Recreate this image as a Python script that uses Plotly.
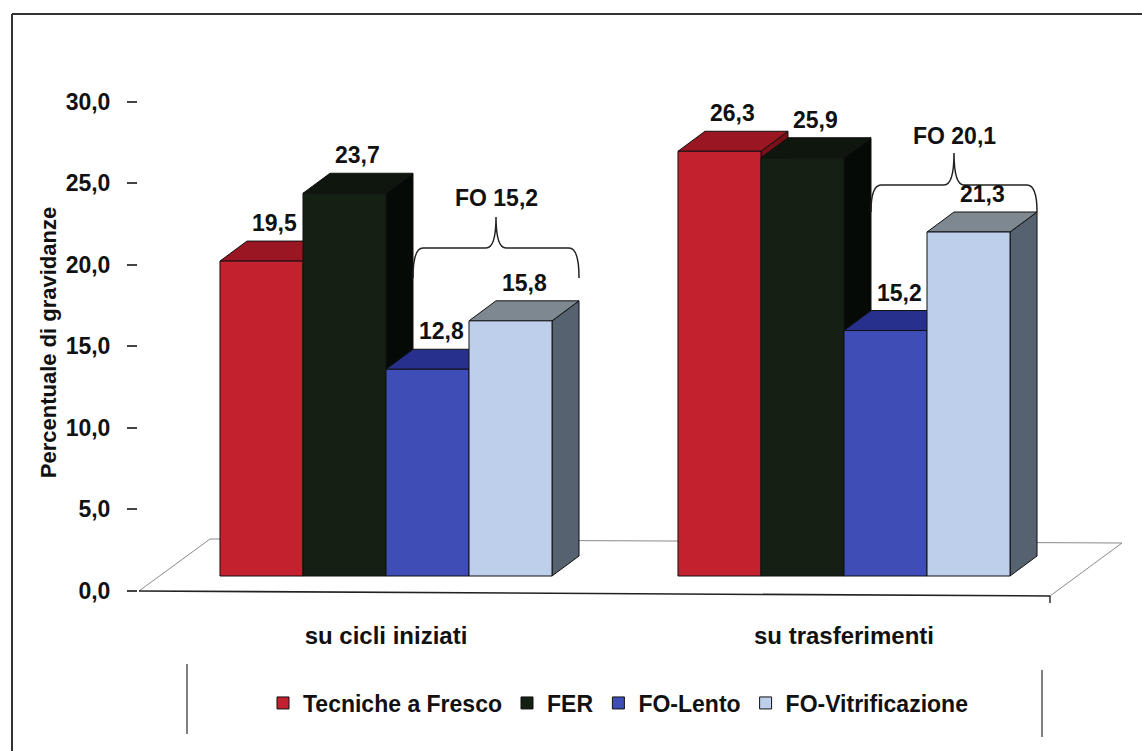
import plotly.graph_objects as go

# ---------------- data ----------------
categories = ["su cicli iniziati", "su trasferimenti"]
series_names = ["Tecniche a Fresco", "FER", "FO-Lento", "FO-Vitrificazione"]
fresco = [19.5, 26.3]
fer = [23.7, 25.9]
fo_lento = [12.8, 15.2]
fo_vitri = [15.8, 21.3]
fo_totals = [15.2, 20.1]
y_ticks = [0, 5, 10, 15, 20, 25, 30]

series_values = [fresco, fer, fo_lento, fo_vitri]

# ---------------- styles ----------------
front_colors = ["#C4212F", "#132013", "#3F4DB6", "#BDCFEA"]
top_colors = ["#9A1622", "#0E160E", "#27308C", "#7D8890"]
side_colors = ["#7A0F18", "#060A06", "#1E2570", "#566270"]
FONT = "Liberation Sans, Arial, sans-serif"

# ---------------- geometry (pixels) ----------------
W, H = 1142, 751
PL, PR, PT, PB = 138, 1130, 80, 605
G0, GSCALE = 386, 458.0          # x: group 0 centre px, px per group unit
B0, BS = 576, 16.15              # bars: value 0 at px, px per unit
A0, AS = 591, (591 - 101.5) / 30  # tick axis: value 0 at px, px per unit
DEPTH_X, DEPTH_Y = 27, 20        # 3D depth offset in px
BARGAP = 0.275


def xd(px):
    return (px - G0) / GSCALE


def yd(px):
    return (B0 - px) / BS


def xp(px):
    return (px - PL) / (PR - PL)


def yp(px):
    return (PB - px) / (PB - PT)


ddx = DEPTH_X / GSCALE
ddy = DEPTH_Y / BS

xrange_ = [xd(PL), xd(PR)]
y2range = [yd(PB), yd(PT)]
yrange = [(A0 - PB) / AS, (A0 - PT) / AS]


def fmt(v):
    return f"{v:.1f}".replace(".", ",")


fig = go.Figure()

# dummy trace to anchor the tick axis
fig.add_trace(go.Scatter(x=[None], y=[None], showlegend=False, hoverinfo="skip"))

n = len(series_values)
bw = (1 - BARGAP) / n
for i, (name, vals) in enumerate(zip(series_names, series_values)):
    fig.add_trace(go.Bar(
        x=list(range(len(categories))), y=vals, name=name, yaxis="y2",
        marker=dict(color=front_colors[i], line=dict(color="#111111", width=1)),
        hoverinfo="skip",
    ))

shapes = []
line_grey = dict(color="#8a8a8a", width=1)
# floor
fl = (xd(139), yd(591)); fr = (xd(1050), yd(596))
br = (xd(1122), yd(543)); bl = (xd(210), yd(539))
shapes.append(dict(type="path", xref="x", yref="y2", layer="below",
                   path=f"M{fl[0]},{fl[1]} L{bl[0]},{bl[1]} L{br[0]},{br[1]} L{fr[0]},{fr[1]}",
                   line=line_grey, fillcolor="rgba(0,0,0,0)"))
shapes.append(dict(type="line", xref="x", yref="y2", layer="below",
                   x0=fl[0], y0=fl[1], x1=fr[0], y1=fr[1],
                   line=dict(color="#222222", width=1.6)))
shapes.append(dict(type="line", xref="x", yref="y2", layer="below",
                   x0=fr[0], y0=fr[1], x1=fr[0], y1=yd(603),
                   line=dict(color="#222222", width=1.4)))

annotations = []
for g in range(len(categories)):
    for i in range(n):
        v = series_values[i][g]
        x0 = g - (1 - BARGAP) / 2 + i * bw
        x1 = x0 + bw
        # side face
        shapes.append(dict(
            type="path", xref="x", yref="y2", layer="below",
            path=(f"M{x1},0 L{x1 + ddx},{ddy} L{x1 + ddx},{v + ddy} L{x1},{v} Z"),
            fillcolor=side_colors[i], line=dict(color="#111111", width=1)))
        # top face
        shapes.append(dict(
            type="path", xref="x", yref="y2", layer="below",
            path=(f"M{x0},{v} L{x0 + ddx},{v + ddy} L{x1 + ddx},{v + ddy} L{x1},{v} Z"),
            fillcolor=top_colors[i], line=dict(color="#111111", width=1)))
        annotations.append(dict(
            x=(x0 + x1) / 2 + ddx / 2, y=v + ddy, xref="x", yref="y2",
            text=fmt(v), showarrow=False, yanchor="bottom", yshift=3,
            font=dict(family=FONT, size=23, color="#111111", weight="bold")))

# braces over the FO bars
brace_px = [dict(h=248, tip=278, peak=217, text=198),
            dict(h=185, tip=212, peak=153, text=136)]
rx = 10 / GSCALE
for g in range(len(categories)):
    xl = g - (1 - BARGAP) / 2 + 2 * bw + ddx
    xr = g - (1 - BARGAP) / 2 + 4 * bw + ddx
    xm = (xl + xr) / 2
    yh = yd(brace_px[g]["h"]); yt = yd(brace_px[g]["tip"]); ypk = yd(brace_px[g]["peak"])
    path = (f"M{xl},{yt} Q{xl},{yh} {xl + rx},{yh} L{xm - rx},{yh} "
            f"Q{xm},{yh} {xm},{ypk} Q{xm},{yh} {xm + rx},{yh} "
            f"L{xr - rx},{yh} Q{xr},{yh} {xr},{yt}")
    shapes.append(dict(type="path", xref="x", yref="y2", path=path,
                       line=dict(color="#222222", width=1.5)))
    annotations.append(dict(
        x=xm, y=yd(brace_px[g]["text"]), xref="x", yref="y2",
        text=f"FO {fmt(fo_totals[g])}", showarrow=False,
        font=dict(family=FONT, size=23, color="#111111", weight="bold")))

# outer frame (top and left)
shapes.append(dict(type="line", xref="paper", yref="paper",
                   x0=xp(12), y0=yp(14), x1=xp(W), y1=yp(14),
                   line=dict(color="#333333", width=2)))
shapes.append(dict(type="line", xref="paper", yref="paper",
                   x0=xp(12), y0=yp(14), x1=xp(12), y1=yp(H),
                   line=dict(color="#333333", width=2)))
# legend side lines
shapes.append(dict(type="line", xref="paper", yref="paper",
                   x0=xp(187), y0=yp(664), x1=xp(187), y1=yp(734),
                   line=dict(color="#555555", width=1.5)))
shapes.append(dict(type="line", xref="paper", yref="paper",
                   x0=xp(1042), y0=yp(670), x1=xp(1042), y1=yp(737),
                   line=dict(color="#555555", width=1.5)))

fig.update_layout(
    width=W, height=H,
    margin=dict(l=PL, r=W - PR, t=PT, b=H - PB, autoexpand=False),
    paper_bgcolor="white", plot_bgcolor="rgba(0,0,0,0)",
    separators=",.",
    barmode="group", bargap=BARGAP, bargroupgap=0,
    showlegend=True,
    legend=dict(orientation="h", x=xp(618), xanchor="center", y=yp(703), yanchor="middle",
                font=dict(family=FONT, size=23, color="#111111", weight="bold"),
                traceorder="normal", bgcolor="rgba(0,0,0,0)", itemclick=False,
                itemwidth=30),
    xaxis=dict(range=xrange_, tickmode="array", tickvals=list(range(len(categories))),
               ticktext=categories, showgrid=False, zeroline=False, showline=False,
               ticks="", ticklabelstandoff=14,
               tickfont=dict(family=FONT, size=24, color="#111111", weight="bold")),
    yaxis=dict(range=yrange, tickmode="array", tickvals=y_ticks, tickformat=".1f",
               showgrid=False, zeroline=False, showline=False,
               ticks="outside", ticklen=10, tickcolor="#444444", tickwidth=1.5,
               ticklabelstandoff=12,
               tickfont=dict(family=FONT, size=23, color="#111111", weight="bold"),
               title=dict(text="Percentuale di gravidanze", standoff=2,
                          font=dict(family=FONT, size=22, color="#111111", weight="bold"))),
    yaxis2=dict(range=y2range, overlaying="y", visible=False, showgrid=False, zeroline=False),
    shapes=shapes,
    annotations=annotations,
)

fig.write_html("out.html", config={"displayModeBar": False},
               post_script="document.body.style.margin='0px';")
